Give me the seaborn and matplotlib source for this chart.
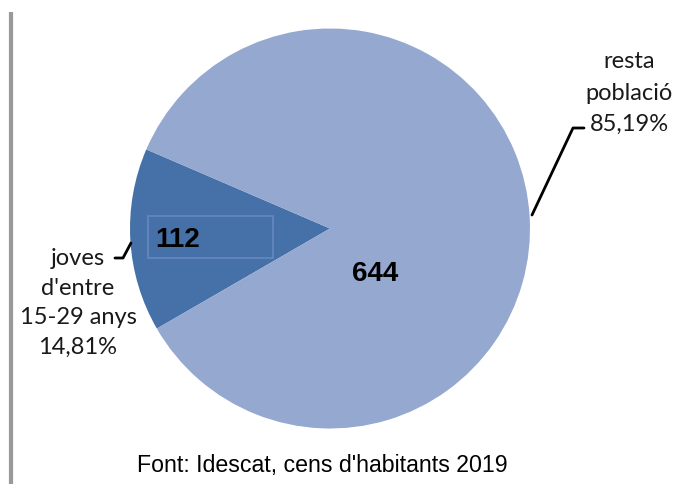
import matplotlib
matplotlib.use("Agg")
import matplotlib.pyplot as plt
from matplotlib.patches import Rectangle
import seaborn as sns

# dades
categories = ["joves d'entre\n15-29 anys", "resta\npoblació"]
values = [112, 644]
pct_labels = ["14,81%", "85,19%"]
colors = ["#4671a8", "#94a8d0"]
source = "Font: Idescat, cens d'habitants 2019"

sns.set_theme(style="white")
plt.rcParams["font.family"] = ["Liberation Sans", "DejaVu Sans"]

W, H = 680, 484
fig = plt.figure(figsize=(W / 100, H / 100), dpi=100)
ax = fig.add_axes([0, 0, 1, 1])

def py(y):
    # files de la imatge -> eix y
    return H - y

cx, cy, r = 330, py(228.5), 200
wedges, _ = ax.pie(values, colors=colors, startangle=156.7, counterclock=True,
                   center=(cx, cy), radius=r, frame=True,
                   wedgeprops=dict(linewidth=0))
ax.set_xlim(0, W)
ax.set_ylim(0, H)
ax.set_aspect("equal")
ax.axis("off")

# valors
ax.add_patch(Rectangle((148, py(258)), 125, 42, fill=False,
                       edgecolor="#6489c0", lw=1.2))
ax.text(155, py(247), str(values[0]), fontsize=20, fontweight="bold",
        ha="left", va="baseline", color="black")
ax.text(375, py(281), str(values[1]), fontsize=20, fontweight="bold",
        ha="center", va="baseline", color="black")

# etiquetes
lab_font = ["Lato", "DejaVu Sans"]
ax.text(78, py(303), "joves\nd'entre\n15-29 anys\n" + pct_labels[0],
        family=lab_font, fontsize=17, ha="center", va="center",
        linespacing=1.52, color="#1a1a1a")
ax.text(629, py(93), "resta\npoblació\n" + pct_labels[1],
        family=lab_font, fontsize=17, ha="center", va="center",
        linespacing=1.62, color="#1a1a1a")

# linies guia
ax.plot([115, 123, 131], [py(258), py(258), py(243)], color="black", lw=2)
ax.plot([584, 573, 532], [py(128), py(128), py(215)], color="black", lw=2)

# vora esquerra
ax.plot([11, 11], [py(12), 0], color="#999999", lw=3, solid_capstyle="butt")

ax.text(322, py(472), source, fontsize=16.7, ha="center", va="baseline",
        color="black")

fig.savefig("out.png", dpi=100)
